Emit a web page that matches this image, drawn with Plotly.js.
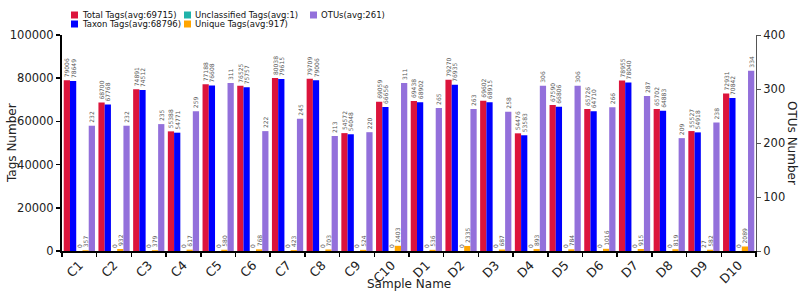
<!DOCTYPE html>
<html>
<head>
<meta charset="utf-8">
<script src="https://cdn.plot.ly/plotly-3.0.1.min.js"></script>
<style>html,body{margin:0;padding:0;background:#fff;}#chart{width:806px;height:293px;}</style>
</head>
<body>
<div id="chart"></div>
<script>
const samples = ["C1","C2","C3","C4","C5","C6","C7","C8","C9","C10","D1","D2","D3","D4","D5","D6","D7","D8","D9","D10"];
const totalTags = [79006,68700,74891,55388,77188,76525,80038,79709,54572,69059,69438,79270,69602,54476,67590,65726,78955,65702,55527,72931];
const taxonTags = [78649,67768,74512,54771,76608,75757,79615,79006,54048,66656,68902,76935,68915,53583,66806,64710,78040,64883,54918,70842];
const unclassifiedTags = [0,0,0,0,0,0,0,0,0,0,0,0,0,0,0,0,0,0,27,0];
const uniqueTags = [357,932,379,617,580,768,423,703,524,2403,536,2335,687,893,784,1016,915,819,582,2089];
const otus = [232,232,235,259,311,222,245,213,220,311,265,263,258,306,306,266,287,209,238,334];
const seriesNames = ["Total Tags(avg:69715)","Taxon Tags(avg:68796)","Unclassified Tags(avg:1)","Unique Tags(avg:917)","OTUs(avg:261)"];
const seriesColors = ["#dc143c","#0000ff","#20b2aa","#ffa500","#9370db"];

const seriesData = [totalTags, taxonTags, unclassifiedTags, uniqueTags, otus];
const offsets = [-0.45,-0.27,-0.09,0.09,0.27];
const labelFont = {family:"DejaVu Sans", size:6, color:"#555"};

const traces = seriesData.map((vals, i) => ({
  type: "bar",
  x: samples,
  y: vals,
  name: seriesNames[i],
  yaxis: i === 4 ? "y2" : "y",
  width: 0.18,
  offset: offsets[i],
  marker: {color: seriesColors[i], line: {width: 0}},
  text: vals.map(String),
  textposition: "outside",
  textangle: -90,
  textfont: labelFont,
  constraintext: "none",
  cliponaxis: false,
  hoverinfo: "x+y+name",
  showlegend: false
}));

// plot area in pixels
const L = 62, R = 756, T = 35, B = 251;
const W = 806, H = 293;
const px = v => (v - L) / (R - L);
const py = v => (B - v) / (B - T);

// manual legend (two rows, column-major)
const legendPos = [
  [71, 15], [71, 24], [184, 15], [184, 24], [310, 15]
];
const shapes = [];
const annotations = [];
legendPos.forEach((p, i) => {
  shapes.push({type:"rect", xref:"paper", yref:"paper",
    x0: px(p[0]), x1: px(p[0] + 7), y0: py(p[1] + 3.5), y1: py(p[1] - 3.5),
    fillcolor: seriesColors[i], line:{width:0}});
  annotations.push({xref:"paper", yref:"paper", x: px(p[0] + 9), y: py(p[1]),
    xanchor:"left", yanchor:"middle", showarrow:false, text: seriesNames[i],
    font:{family:"DejaVu Sans", size:8.5, color:"#111"}});
});
// axis titles
annotations.push({xref:"paper", yref:"paper", x: px(12), y: py(143), showarrow:false,
  text:"Tags Number", textangle:-90, xanchor:"center", yanchor:"middle",
  font:{family:"DejaVu Sans", size:12, color:"#222"}});
annotations.push({xref:"paper", yref:"paper", x: px(792), y: py(143), showarrow:false,
  text:"OTUs Number", textangle:90, xanchor:"center", yanchor:"middle",
  font:{family:"DejaVu Sans", size:12, color:"#222"}});
annotations.push({xref:"paper", yref:"paper", x: px(409), y: py(284), showarrow:false,
  text:"Sample Name", xanchor:"center", yanchor:"middle",
  font:{family:"DejaVu Sans", size:12, color:"#222"}});

const layout = {
  width: W, height: H,
  margin: {l: L, r: W - R, t: T, b: H - B, pad: 0},
  paper_bgcolor: "#fff", plot_bgcolor: "#fff",
  barmode: "overlay",
  showlegend: false,
  font: {family: "DejaVu Sans", color: "#222"},
  xaxis: {
    type: "category", range: [-0.5, 19.5],
    showline: true, linecolor: "#000", linewidth: 2,
    ticks: "outside", tickson: "boundaries", ticklen: 4, tickwidth: 1.5, tickcolor: "#000",
    tickangle: -45, tickfont: {family: "DejaVu Sans", size: 12.5, color: "#222"},
    showgrid: false, zeroline: false, fixedrange: true
  },
  yaxis: {
    range: [0, 100000], dtick: 20000, tickformat: "d",
    showline: true, linecolor: "#000", linewidth: 2,
    ticks: "outside", ticklen: 4, tickwidth: 1.5, tickcolor: "#000",
    tickfont: {family: "DejaVu Sans", size: 11.5, color: "#222"},
    showgrid: false, zeroline: false, fixedrange: true
  },
  yaxis2: {
    range: [0, 400], dtick: 100, overlaying: "y", side: "right",
    showline: true, linecolor: "#555", linewidth: 1,
    ticks: "outside", ticklen: 4, tickwidth: 1, tickcolor: "#555",
    tickfont: {family: "DejaVu Sans", size: 11.5, color: "#222"},
    showgrid: false, zeroline: false, fixedrange: true
  },
  shapes: shapes,
  annotations: annotations
};

Plotly.newPlot("chart", traces, layout, {staticPlot: true, displayModeBar: false});
</script>
</body>
</html>
